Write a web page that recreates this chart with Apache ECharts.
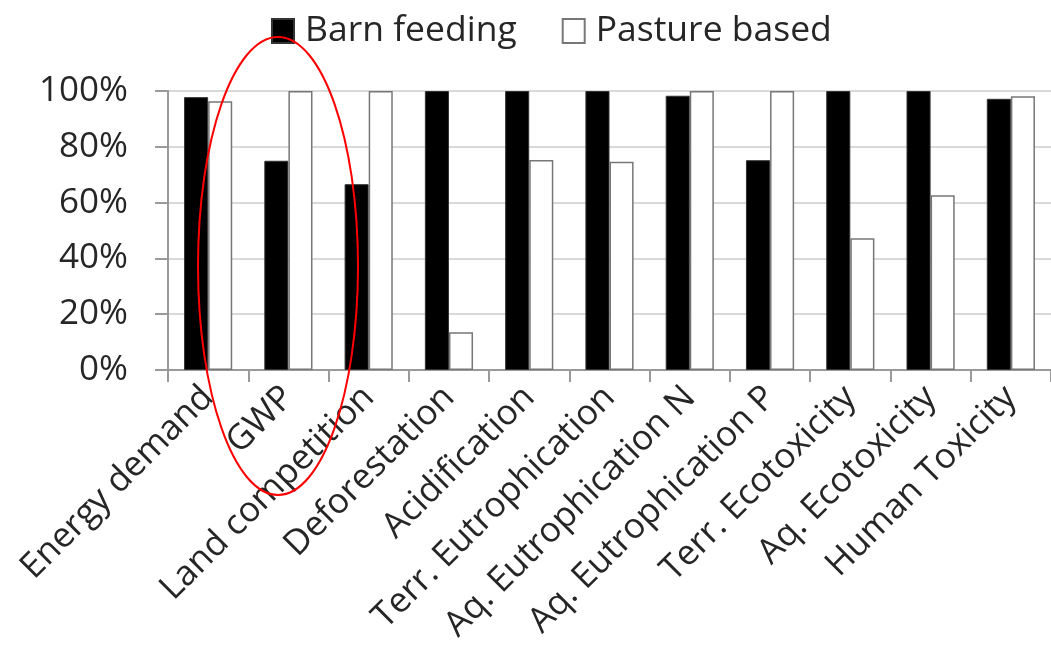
<!DOCTYPE html>
<html>
<head>
<meta charset="utf-8">
<script src="https://cdn.jsdelivr.net/npm/echarts@6/dist/echarts.min.js"></script>
<style>html,body{margin:0;padding:0;background:#fff;}#c{width:1051px;height:660px;}</style>
</head>
<body>
<div id="c"></div>
<script>
const categories = ['Energy demand','GWP','Land competition','Deforestation','Acidification','Terr. Eutrophication','Aq. Eutrophication N','Aq. Eutrophication P','Terr. Ecotoxicity','Aq. Ecotoxicity','Human Toxicity'];
const barnFeeding = [97.8, 75, 66.6, 100, 100, 100, 98.3, 75.2, 100, 100, 97.2];
const pastureBased = [96.3, 100, 100, 13.5, 75.3, 74.6, 100, 100, 47.2, 62.6, 98.1];
const seriesNames = ['Barn feeding', 'Pasture based'];

const FONT = '"Open Sans", sans-serif';
const chart = echarts.init(document.getElementById('c'));
chart.setOption({
  animation: false,
  backgroundColor: '#fff',
  legend: {
    top: 8, left: 266,
    icon: 'rect',
    itemWidth: 22, itemHeight: 24, itemGap: 45,
    textStyle: { fontFamily: FONT, fontSize: 35.5, color: '#262626', padding: [0, 0, 0, 6] },
    data: seriesNames
  },
  grid: { left: 168, right: 0, top: 91, bottom: 290, containLabel: false },
  xAxis: {
    type: 'category', data: categories,
    axisLine: { lineStyle: { color: '#9a9a9a', width: 2 } },
    axisTick: { show: true, length: 12, lineStyle: { color: '#9a9a9a', width: 2 } },
    axisLabel: { rotate: 45, interval: 0, margin: 22, fontFamily: FONT, fontSize: 35, color: '#262626' }
  },
  yAxis: {
    type: 'value', min: 0, max: 100, interval: 20,
    axisLine: { show: true, lineStyle: { color: '#9a9a9a', width: 2 } },
    axisTick: { show: true, length: 13, lineStyle: { color: '#9a9a9a', width: 2 } },
    splitLine: { lineStyle: { color: '#d9d9d9', width: 2 } },
    axisLabel: { formatter: '{value}%', margin: 40, fontFamily: FONT, fontSize: 35, color: '#262626' }
  },
  series: [
    { name: seriesNames[0], type: 'bar', data: barnFeeding, barGap: '0%', barCategoryGap: '40%',
      itemStyle: { color: '#000', borderColor: '#333', borderWidth: 1 } },
    { name: seriesNames[1], type: 'bar', data: pastureBased, barGap: '0%', barCategoryGap: '40%',
      itemStyle: { color: '#fff', borderColor: '#777', borderWidth: 1.5 } }
  ],
  graphic: [
    { type: 'ellipse', z: 100, shape: { cx: 278, cy: 266, rx: 80, ry: 229 },
      style: { fill: 'none', stroke: '#ff0000', lineWidth: 2 } }
  ]
});
</script>
</body>
</html>
